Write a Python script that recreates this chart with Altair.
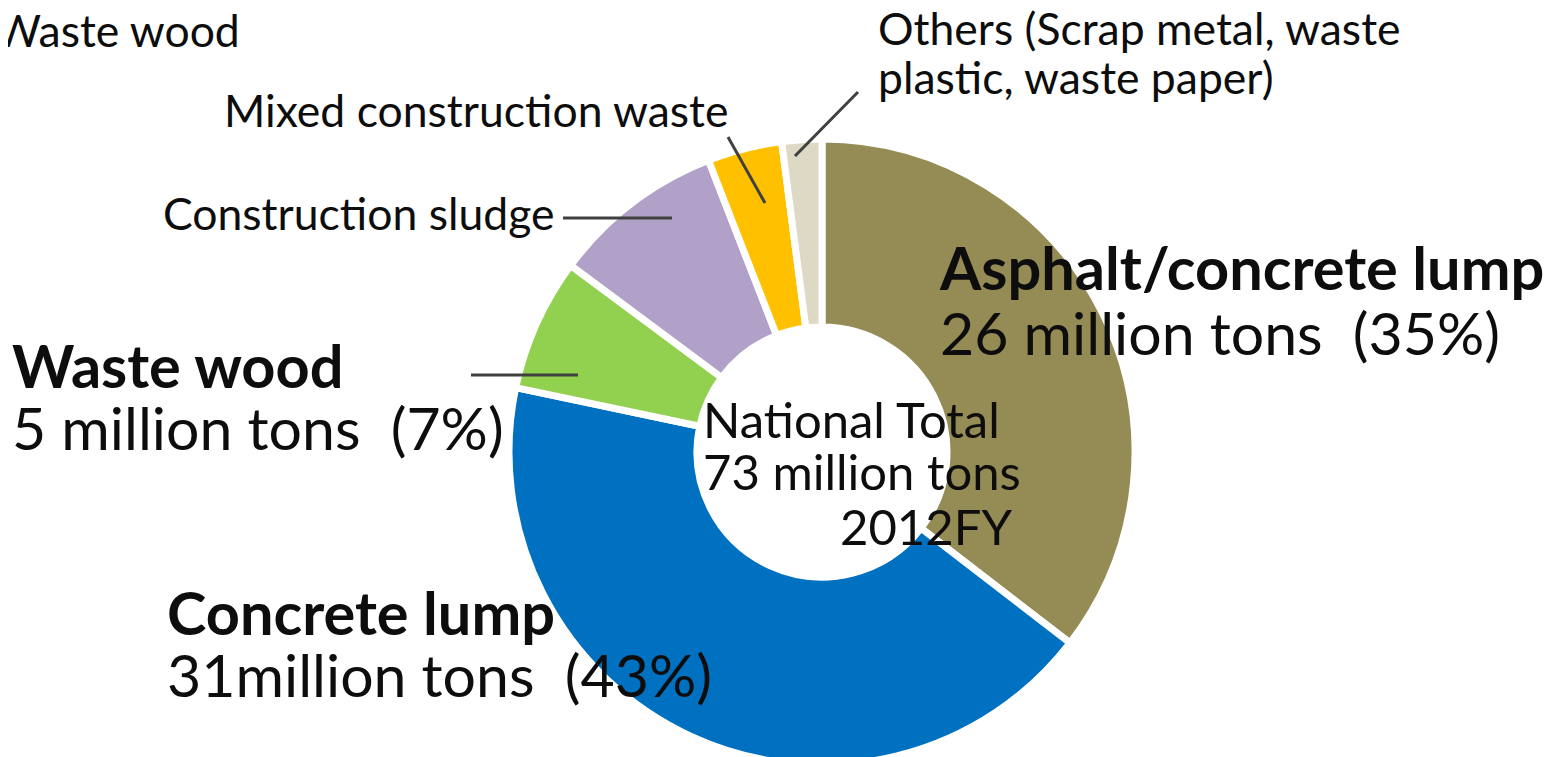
import altair as alt
import pandas as pd

categories = ["Asphalt/concrete lump", "Concrete lump", "Waste wood",
              "Construction sludge", "Mixed construction waste", "Others"]
values = [25.8, 31.2, 5.0, 6.5, 2.8, 1.5]
colors = ["#958B55", "#0070C0", "#92D050", "#B1A0C7", "#FFC000", "#DDD9C4"]

df = pd.DataFrame({"category": categories, "value": values,
                   "idx": list(range(len(categories)))})

FONT = "Lato"
W, H = 1540, 749
CX, CY = 814, 444

base = alt.Chart(df)

donut = base.mark_arc(innerRadius=125, outerRadius=313, stroke="white",
                      strokeWidth=7).encode(
    theta=alt.Theta("value:Q", stack=True),
    order=alt.Order("idx:Q"),
    color=alt.Color("category:N", scale=alt.Scale(domain=categories, range=colors),
                    legend=None),
    x=alt.value(CX), y=alt.value(CY),
)

one = pd.DataFrame({"k": [0]})
SP = "\u00a0 "


def label(text, x, y, size, weight="normal", align="left"):
    return alt.Chart(one).mark_text(
        text=text, font=FONT, fontSize=size, fontWeight=weight, align=align,
        baseline="alphabetic", color="#0d0d0d"
    ).encode(x=alt.value(x), y=alt.value(y))


def leader(x1, y1, x2, y2):
    return alt.Chart(one).mark_rule(color="#404040", strokeWidth=3).encode(
        x=alt.value(x1), y=alt.value(y1), x2=alt.value(x2), y2=alt.value(y2))


OFF = 8
layers = [
    donut,
    leader(858 - OFF, 92 - OFF, 795 - OFF, 156 - OFF),
    leader(728 - OFF, 137 - OFF, 765 - OFF, 203 - OFF),
    leader(563 - OFF, 218 - OFF, 672 - OFF, 218 - OFF),
    leader(471 - OFF, 375 - OFF, 578 - OFF, 375 - OFF),
    label("Waste wood", -5 - OFF, 47 - OFF, 44.5),
    label("Others (Scrap metal, waste", 878 - OFF, 45 - OFF, 44.5),
    label("plastic, waste paper)", 878 - OFF, 94 - OFF, 44.5),
    label("Mixed construction waste", 224 - OFF, 127 - OFF, 44.5),
    label("Construction sludge", 163 - OFF, 230 - OFF, 44.5),
    label("Asphalt/concrete lump", 940 - OFF, 290 - OFF, 59.5, "bold"),
    label("26 million tons" + SP + "(35%)", 940 - OFF, 355 - OFF, 59),
    label("Waste wood", 12 - OFF, 388 - OFF, 59.5, "bold"),
    label("5 million tons" + SP + "(7%)", 12 - OFF, 450 - OFF, 59),
    label("Concrete lump", 167 - OFF, 635 - OFF, 59.5, "bold"),
    label("31million tons" + SP + "(43%)", 167 - OFF, 697 - OFF, 59),
    label("National Total", 703 - OFF, 438 - OFF, 49),
    label("73 million tons", 703 - OFF, 490 - OFF, 49),
    label("2012FY", 1012 - OFF, 545 - OFF, 49, align="right"),
]

chart = alt.layer(*layers).properties(
    width=W, height=H, padding=0,
    autosize=alt.AutoSizeParams(type="none"),
).configure_view(stroke=None)

chart.save("out.html", embed_options={"renderer": "svg", "actions": False})
